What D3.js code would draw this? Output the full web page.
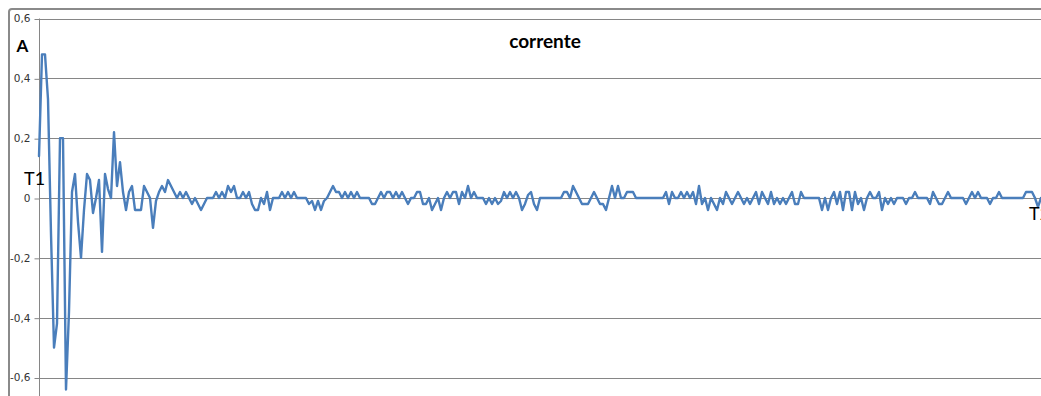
<!DOCTYPE html>
<html>
<head>
<meta charset="utf-8">
<script src="https://cdn.jsdelivr.net/npm/d3@7"></script>
<style>
  html, body { margin: 0; padding: 0; background: #fff; }
  svg { display: block; }
</style>
</head>
<body>
<svg id="chart" width="1041" height="396"></svg>
<script>
// Chart text
const chartTitle = "corrente";
const unitLabel = "A";
const startMarker = "T1";
const endMarker = "T2";

// Vertical axis ticks (A)
const yTicks = [-0.6, -0.4, -0.2, 0, 0.2, 0.4, 0.6];

// Sampled current (A), one value per sample
const current = [
  0.14, 0.48, 0.48, 0.33, -0.12, -0.50, -0.42, 0.20, 0.20, -0.64,
  -0.38, 0.02, 0.08, -0.08, -0.20, -0.04, 0.08, 0.06, -0.05, 0.00,
  0.06, -0.18, 0.08, 0.03, 0.00, 0.22, 0.04, 0.12, 0.02, -0.04,
  0.02, 0.04, -0.04, -0.04, -0.04, 0.04, 0.02, 0.00, -0.10, -0.01,
  0.02, 0.04, 0.02, 0.06, 0.04, 0.02, 0.00, 0.02, 0.00, 0.02,
  0.00, -0.02, 0.00, -0.02, -0.04, -0.02, 0, 0, 0, 0.02,
  0, 0.02, 0, 0.04, 0.02, 0.04, 0, 0, 0.02, 0,
  0.02, -0.02, -0.04, -0.04, 0, -0.02, 0.02, -0.04, 0, 0,
  0, 0.02, 0, 0.02, 0, 0.02, 0, 0, 0, 0,
  -0.02, -0.01, -0.04, -0.01, -0.04, -0.01, 0, 0.02, 0.04, 0.02,
  0.02, 0, 0.02, 0, 0.02, 0, 0.02, 0, 0, 0,
  0, -0.02, -0.02, 0, 0.02, 0, 0.02, 0.02, 0, 0.02,
  0, 0.02, 0, -0.02, 0, 0, 0.02, 0.02, -0.02, -0.02,
  0, -0.04, -0.02, 0, -0.04, 0, 0.02, 0, 0.02, 0.02,
  -0.02, 0.02, 0, 0.04, 0, 0.02, 0, 0, 0, -0.02,
  0, -0.02, 0, -0.02, -0.01, 0.02, 0, 0.02, 0, 0.02,
  0, -0.04, -0.02, 0.01, 0.02, -0.02, -0.04, 0, 0, 0,
  0, 0, 0, 0, 0, 0.02, 0.02, 0, 0.04, 0.02,
  0, -0.02, -0.02, -0.02, 0, 0.02, 0, -0.02, -0.02, -0.04,
  0, 0.04, 0, 0.04, 0, 0, 0.02, 0.02, 0.02, 0,
  0, 0, 0, 0, 0, 0, 0, 0, 0, 0.02,
  -0.02, 0.02, 0, 0, 0.02, 0, 0.02, 0, 0.02, -0.02,
  0.04, -0.02, 0, -0.04, 0, -0.02, -0.04, 0, -0.02, 0.02,
  0, -0.02, 0, 0.02, 0, -0.02, 0, -0.02, 0, 0.02,
  -0.02, 0.02, 0, -0.02, 0.02, -0.02, 0, -0.02, 0, -0.02,
  0, 0.02, -0.02, -0.02, 0.02, 0, 0, 0, 0, 0,
  0, -0.04, 0, -0.04, 0, 0.02, -0.02, 0.02, -0.04, 0.02,
  0.02, -0.04, 0.02, -0.02, 0, -0.04, 0, 0.02, 0, 0,
  0.02, -0.04, 0, -0.02, 0, -0.02, 0, 0, 0, -0.02,
  0, 0, 0.02, 0, 0, 0, 0, -0.02, 0.02, 0,
  -0.02, -0.02, 0, 0.02, 0, 0, 0, 0, 0, -0.02,
  0, 0.02, 0, 0.02, 0, 0, 0, -0.02, 0, 0,
  0.02, 0, 0, 0, 0, 0, 0, 0, 0, 0.02,
  0.02, 0.02, 0, -0.03, 0
];

const svg = d3.select("#chart");
const W = 1041, H = 396;
const plot = { left: 39, right: 1041, top: 18.5, bottom: 377.5 };

const x = d3.scaleLinear()
  .domain([0, current.length - 1])
  .range([plot.left, plot.right]);

const y = d3.scaleLinear()
  .domain([-0.6, 0.6])
  .range([plot.bottom, plot.top]);

const gridColor = "#868686";
const fmt = v => (v === 0 ? "0" : d3.format(".1f")(v).replace(".", ",").replace("\u2212", "-"));

// Chart frame
svg.append("rect")
  .attr("x", 9).attr("y", 9)
  .attr("width", W + 40).attr("height", H + 40)
  .attr("rx", 3)
  .attr("fill", "#fff")
  .attr("stroke", "#8a8a8a")
  .attr("stroke-width", 2);

// Horizontal gridlines
svg.append("g")
  .selectAll("line")
  .data(yTicks)
  .join("line")
  .attr("x1", plot.left).attr("x2", W + 5)
  .attr("y1", d => Math.round(y(d)) + 0.5)
  .attr("y2", d => Math.round(y(d)) + 0.5)
  .attr("stroke", gridColor)
  .attr("stroke-width", 1);

// Vertical axis with ticks and labels
const yAxis = d3.axisLeft(y)
  .tickValues(yTicks)
  .tickSize(5)
  .tickPadding(4)
  .tickFormat(fmt);

const gAxis = svg.append("g")
  .attr("transform", `translate(${plot.left + 0.5},0)`)
  .call(yAxis);

gAxis.select(".domain").remove();
gAxis.selectAll(".tick line")
  .attr("stroke", gridColor)
  .attr("transform", "translate(0,0.5)");
gAxis.selectAll(".tick text")
  .attr("font-family", "'DejaVu Sans', sans-serif")
  .attr("font-size", "10.5px")
  .attr("fill", "#333");

svg.append("line")
  .attr("x1", plot.left + 0.5).attr("x2", plot.left + 0.5)
  .attr("y1", plot.top).attr("y2", H + 5)
  .attr("stroke", gridColor)
  .attr("stroke-width", 1);

// Current trace
const line = d3.line()
  .x((d, i) => x(i))
  .y(d => y(d));

svg.append("path")
  .datum(current)
  .attr("d", line)
  .attr("fill", "none")
  .attr("stroke", "#4a7ebb")
  .attr("stroke-width", 2.4)
  .attr("stroke-linejoin", "round")
  .attr("stroke-linecap", "round");

// Title and labels
svg.append("text")
  .attr("x", 545).attr("y", 48)
  .attr("text-anchor", "middle")
  .attr("font-family", "Lato, sans-serif")
  .attr("font-weight", "bold")
  .attr("font-size", "19px")
  .attr("fill", "#000")
  .text(chartTitle);

svg.append("text")
  .attr("x", 16.5).attr("y", 52)
  .attr("font-family", "Lato, sans-serif")
  .attr("font-weight", "bold")
  .attr("font-size", "17px")
  .attr("fill", "#000")
  .text(unitLabel);

svg.append("text")
  .attr("x", 24).attr("y", 185)
  .attr("font-family", "Lato, sans-serif")
  .attr("font-size", "18px")
  .attr("fill", "#000")
  .text(startMarker);

svg.append("text")
  .attr("x", 1029).attr("y", 220)
  .attr("font-family", "Lato, sans-serif")
  .attr("font-size", "18px")
  .attr("fill", "#000")
  .text(endMarker);
</script>
</body>
</html>
